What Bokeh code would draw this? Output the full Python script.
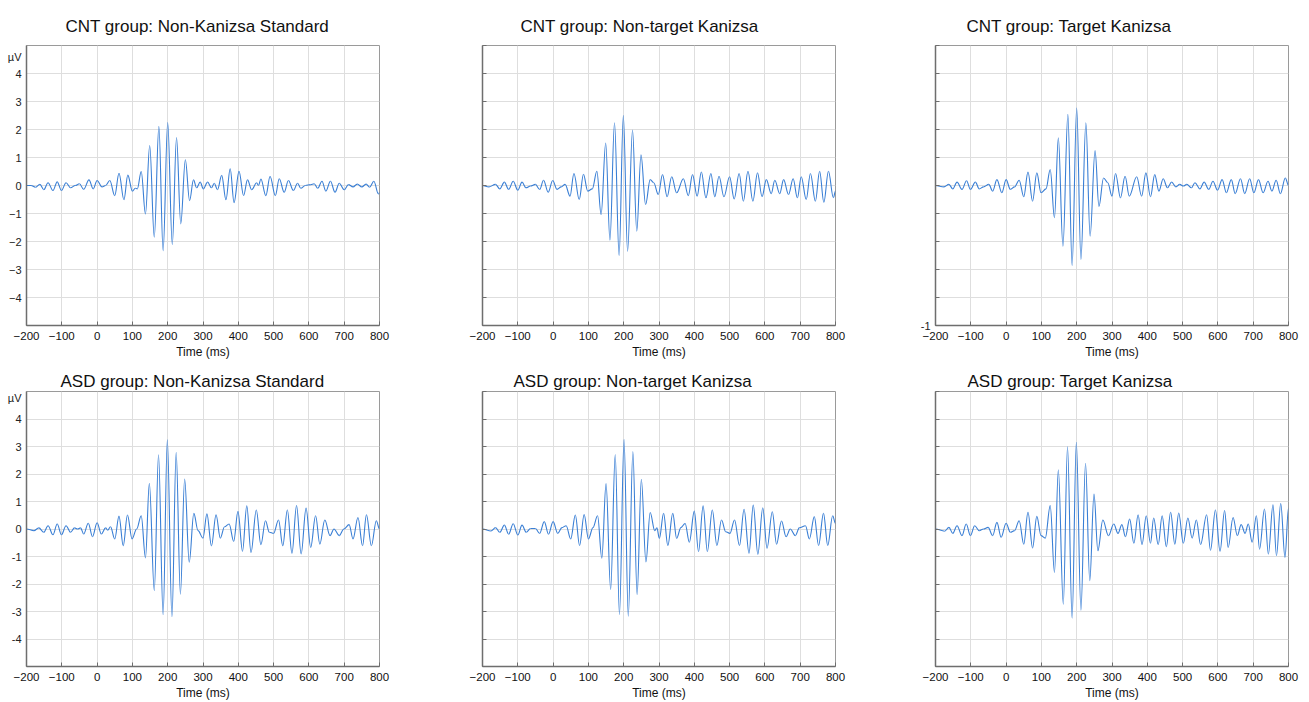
from bokeh.plotting import figure
from bokeh.layouts import gridplot
from bokeh.models import Range1d, FixedTicker
from bokeh.embed import file_html
from bokeh.resources import INLINE

titles = [
    "CNT  group:  Non-Kanizsa Standard",
    "CNT group:  Non-target Kanizsa",
    "CNT group:  Target Kanizsa",
    "ASD group: Non-Kanizsa Standard",
    "ASD group:  Non-target Kanizsa",
    "ASD group:  Target Kanizsa",
]

x_ticks = [-200, -100, 0, 100, 200, 300, 400, 500, 600, 700, 800]
y_ticks = [-5, -4, -3, -2, -1, 0, 1, 2, 3, 4, 5]
unit_label = "\u00b5V"
unit_pos = [4.6, 4.75]
y_labels_row1 = {4: "4", 3: "3", 2: "2", 1: "1", 0: "0", -1: "\u22121",
                 -2: "\u22122", -3: "\u22123", -4: "\u22124", -5: "", 5: ""}
y_labels_row2 = {4: "4", 3: "3", 2: "2", 1: "1", 0: "0", -1: "-1",
                 -2: "-2", -3: "-3", -4: "-4", -5: "", 5: ""}
x_label = "Time (ms)"

# CNT group: Non-Kanizsa Standard (successive peaks/troughs)
t1 = [-200, -187, -175, -162, -151, -139, -125, -113, -101, -88, -75, -62, -50, -38, -23, -11, 0, 14, 24, 36,
      50, 62, 76, 87, 100, 108, 114, 125, 137, 149, 162, 175, 187, 200, 213, 225, 237, 250, 262, 273,
      282, 292, 301, 313, 324, 332, 341, 353, 365, 377, 388, 402, 415, 426, 438, 452, 457, 464, 478, 490,
      505, 516, 530, 542, 556, 568, 577, 590, 605, 615, 625, 637, 648, 661, 674, 686, 700, 712, 725, 737,
      750, 762, 772, 784, 797, 800]
v1 = [0, 0, -0.06, 0.04, -0.15, 0.1, -0.18, 0.13, -0.18, 0.1, -0.08, 0, 0.06, -0.14, 0.2, -0.12, 0.18, -0.05, 0, 0.18,
      -0.36, 0.44, -0.51, 0.37, -0.2, -0.1, -0.12, 0.5, -1.02, 1.43, -1.85, 2.11, -2.33, 2.25, -2.11, 1.71, -1.37, 0.92, -0.54, 0.2,
      -0.08, 0.12, -0.12, 0.12, -0.08, 0.08, -0.15, 0.36, -0.51, 0.6, -0.61, 0.51, -0.36, 0.2, -0.15, 0.1, 0.0, 0.23, -0.36, 0.32,
      -0.36, 0.24, -0.24, 0.18, -0.18, 0.08, -0.1, 0.0, 0.03, 0.06, -0.1, 0.15, -0.2, 0.15, -0.24, 0.08, -0.15, 0.03, -0.05, 0.05,
      -0.05, 0.05, -0.06, 0.15, -0.3, -0.25]

# CNT group: Non-target Kanizsa
t2 = [-200, -182, -163, -151, -138, -126, -113, -100, -88, -77, -64, -50, -38, -27, -14, -1, 11, 23, 34, 48,
      59, 74, 86, 98, 111, 124, 136, 149, 161, 174, 187, 199, 211, 225, 237, 249, 262, 275, 285, 298,
      310, 323, 336, 350, 369, 383, 395, 408, 420, 433, 447, 458, 470, 484, 500, 513, 527, 539, 552, 566,
      579, 592, 604, 618, 628, 642, 653, 667, 680, 692, 703, 717, 729, 743, 755, 767, 780, 794, 800]
v2 = [0, -0.05, 0.04, -0.12, 0.12, -0.14, 0.15, -0.17, 0.12, -0.08, -0.02, 0.04, -0.14, 0.19, -0.24, 0.18, -0.14, -0.05, 0.04, -0.38,
      0.43, -0.5, 0.4, -0.2, -0.12, 0.51, -1.04, 1.52, -1.95, 2.24, -2.5, 2.5, -2.35, 1.98, -1.63, 1.1, -0.68, 0.21, 0.1, -0.32,
      0.39, -0.4, 0.31, -0.26, 0.24, -0.36, 0.39, -0.38, 0.48, -0.44, 0.43, -0.4, 0.33, -0.4, 0.31, -0.48, 0.43, -0.56, 0.51, -0.56,
      0.45, -0.4, 0.21, -0.29, 0.19, -0.29, 0.21, -0.32, 0.24, -0.44, 0.31, -0.5, 0.43, -0.56, 0.51, -0.6, 0.51, -0.44, -0.2]

# CNT group: Target Kanizsa
t3 = [-200, -176, -162, -151, -139, -125, -112, -101, -87, -76, -64, -49, -38, -26, -12, 0, 12, 24, 37, 50,
      62, 75, 87, 99, 113, 125, 137, 148, 161, 175, 187, 200, 212, 226, 238, 252, 263, 276, 288, 300,
      310, 324, 337, 349, 370, 384, 396, 409, 421, 433, 445, 457, 469, 481, 492, 502, 512, 525, 535, 549,
      561, 574, 586, 599, 612, 624, 638, 649, 664, 676, 690, 702, 715, 728, 742, 753, 765, 777, 791, 800]
v3 = [0, -0.05, 0.04, -0.12, 0.12, -0.14, 0.17, -0.14, 0.12, -0.12, -0.05, 0.04, -0.2, 0.21, -0.26, 0.21, -0.14, -0.05, 0.19, -0.4,
      0.48, -0.56, 0.45, -0.26, -0.12, 0.57, -1.15, 1.7, -2.17, 2.54, -2.86, 2.77, -2.64, 2.24, -1.81, 1.25, -0.75, 0.27, 0.1, -0.38,
      0.43, -0.44, 0.33, -0.38, 0.31, -0.38, 0.45, -0.4, 0.39, -0.2, 0.24, -0.08, 0.12, -0.05, 0.04, -0.02, 0.04, -0.08, 0.1, -0.12,
      0.12, -0.14, 0.15, -0.17, 0.21, -0.26, 0.21, -0.29, 0.24, -0.29, 0.24, -0.26, 0.21, -0.26, 0.15, -0.2, 0.19, -0.29, 0.27, 0.0]

# ASD group: Non-Kanizsa Standard
t4 = [-200, -179, -165, -151, -139, -125, -113, -101, -88, -75, -64, -55, -47, -38, -25, -13, 0, 12, 24, 30,
      38, 50, 62, 74, 86, 99, 112, 125, 137, 148, 162, 174, 187, 199, 212, 224, 236, 248, 261, 274,
      286, 300, 311, 324, 337, 349, 361, 374, 387, 399, 412, 424, 436, 451, 464, 477, 488, 500, 514, 526,
      539, 552, 565, 578, 592, 605, 619, 631, 645, 660, 671, 686, 699, 714, 725, 739, 752, 763, 777, 791, 800]
v4 = [0, -0.06, 0.04, -0.12, 0.12, -0.21, 0.18, -0.21, 0.12, -0.12, 0.04, 0, 0.04, -0.18, 0.21, -0.28, 0.23, -0.18, 0.04, -0.04,
      0.08, -0.36, 0.47, -0.61, 0.51, -0.36, 0, 0.48, -1.05, 1.66, -2.24, 2.7, -3.12, 3.24, -3.19, 2.79, -2.37, 1.82, -1.21, 0.57,
      -0.06, -0.33, 0.55, -0.61, 0.52, -0.33, 0.08, 0.18, -0.45, 0.64, -0.81, 0.84, -0.85, 0.69, -0.57, 0.3, -0.12, -0.16, 0.33, -0.61,
      0.69, -0.88, 0.85, -0.91, 0.76, -0.67, 0.48, -0.55, 0.33, -0.24, 0, -0.24, 0, 0.16, -0.36, 0.42, -0.61, 0.52, -0.61, 0.3, 0]

# ASD group: Non-target Kanizsa
t5 = [-200, -176, -163, -151, -138, -126, -113, -100, -88, -76, -64, -50, -38, -25, -13, 0, 13, 25, 37, 50,
      63, 75, 88, 100, 113, 126, 138, 150, 163, 176, 188, 201, 213, 226, 238, 250, 263, 275, 288, 294,
      301, 313, 325, 339, 350, 362, 374, 386, 400, 412, 425, 437, 451, 464, 477, 489, 501, 514, 528, 541,
      555, 567, 580, 594, 606, 621, 633, 647, 660, 672, 686, 698, 715, 726, 740, 752, 766, 778, 792, 800]
v5 = [0, -0.07, 0.05, -0.12, 0.14, -0.19, 0.19, -0.22, 0.14, -0.12, 0.02, 0.02, -0.16, 0.27, -0.19, 0.27, -0.16, 0.05, 0.12, -0.36,
      0.51, -0.6, 0.53, -0.36, 0.05, 0.48, -1.06, 1.65, -2.2, 2.71, -3.11, 3.25, -3.17, 2.82, -2.39, 1.81, -1.2, 0.6, -0.06, 0.04,
      -0.34, 0.57, -0.6, 0.57, -0.34, 0.05, 0.2, -0.48, 0.65, -0.82, 0.84, -0.82, 0.69, -0.6, 0.33, -0.1, -0.16, 0.33, -0.6, 0.72,
      -0.88, 0.87, -0.92, 0.77, -0.7, 0.63, -0.55, 0.29, -0.28, 0, -0.24, 0.05, 0.12, -0.36, 0.45, -0.6, 0.57, -0.6, 0.48, 0.2]

# ASD group: Target Kanizsa
t6 = [-200, -174, -162, -151, -139, -125, -113, -101, -89, -76, -64, -51, -38, -26, -14, 0, 12, 24, 37, 50,
      62, 75, 87, 99, 111, 125, 137, 148, 162, 174, 187, 199, 212, 225, 237, 249, 260, 274, 290, 305,
      317, 328, 338, 350, 362, 374, 385, 397, 409, 418, 431, 442, 454, 466, 478, 489, 502, 515, 527, 539,
      551, 568, 579, 593, 606, 619, 629, 643, 655, 666, 677, 686, 697, 709, 718, 732, 743, 756, 766, 778, 790, 800]
v6 = [0, -0.08, 0.06, -0.16, 0.12, -0.24, 0.18, -0.24, 0.12, -0.06, 0, 0.06, -0.24, 0.24, -0.3, 0.21, -0.12, -0.06, 0.3, -0.55,
      0.61, -0.69, 0.46, -0.24, -0.33, 0.85, -1.58, 2.15, -2.73, 2.99, -3.24, 3.15, -2.95, 2.39, -1.88, 1.27, -0.79, 0.33, -0.24, 0.18,
      -0.16, 0.16, -0.28, 0.36, -0.52, 0.52, -0.57, 0.48, -0.52, 0.4, -0.57, 0.48, -0.64, 0.61, -0.55, 0.58, -0.52, 0.4, -0.33, 0.33,
      -0.57, 0.52, -0.77, 0.69, -0.81, 0.67, -0.67, 0.42, -0.24, 0.16, -0.16, 0.18, -0.48, 0.48, -0.73, 0.73, -0.91, 0.88, -0.97, 0.93,
      -1.03, 0.76]

series = [(t1, v1), (t2, v2), (t3, v3), (t4, v4), (t5, v5), (t6, v6)]

FONT = "Liberation Sans"
LINE_COLOR = "#3a7fd5"

col_borders = [(26, 53), (50, 50), (50, 15)]
row_borders = [(45, 38), (28, 34)]
frame_heights = [280, 275]
title_offsets = [39, 38, 31, 34, 31, 32]
title_standoffs = [16, 1]
title_valign = ["top", "bottom"]


def make_panel(i):
    row, col = divmod(i, 3)
    t, v = series[i]
    n = min(len(t), len(v))
    t, v = t[:n], v[:n]
    p = figure(frame_width=353, frame_height=frame_heights[row],
               x_range=Range1d(-200, 800), y_range=Range1d(-5, 5),
               output_backend="svg", toolbar_location=None,
               min_border_left=col_borders[col][0], min_border_right=col_borders[col][1],
               min_border_top=row_borders[row][0], min_border_bottom=row_borders[row][1],
               background_fill_color="white", border_fill_color="white")
    p.title.text = titles[i]
    p.title.align = "left"
    p.title.offset = title_offsets[i]
    p.title.standoff = title_standoffs[row]
    p.title.vertical_align = title_valign[row]
    p.title.text_font = FONT
    p.title.text_font_size = "17px"
    p.title.text_font_style = "normal"
    p.title.text_color = "#111111"

    # smooth half-waves between successive extrema (horizontal tangents at each extremum)
    x0, y0, x1, y1 = t[:-1], v[:-1], t[1:], v[1:]
    cx0 = [a + 0.36 * (b - a) for a, b in zip(x0, x1)]
    cx1 = [b - 0.36 * (b - a) for a, b in zip(x0, x1)]
    p.bezier(x0=x0, y0=y0, x1=x1, y1=y1, cx0=cx0, cy0=y0, cx1=cx1, cy1=y1,
             line_color=LINE_COLOR, line_width=1.1)

    p.outline_line_color = "#9a9a9a"
    p.outline_line_width = 1

    for g in (p.xgrid, p.ygrid):
        g.grid_line_color = "#dedede"
        g.grid_line_width = 1
    p.xgrid.ticker = FixedTicker(ticks=x_ticks)
    p.ygrid.ticker = FixedTicker(ticks=y_ticks)

    xa = p.xaxis[0]
    xa.ticker = FixedTicker(ticks=x_ticks)
    xa.axis_label = x_label
    xa.axis_label_text_font = FONT
    xa.axis_label_text_font_size = "12px"
    xa.axis_label_text_font_style = "normal"
    xa.axis_label_text_color = "#111111"
    xa.axis_label_standoff = 2
    xa.major_label_text_font = FONT
    xa.major_label_text_font_size = "11.5px"
    xa.major_label_text_color = "#111111"
    xa.major_label_standoff = 6

    ya = p.yaxis[0]
    ya.major_label_text_font = FONT
    ya.major_label_text_font_size = "11px"
    ya.major_label_text_color = "#222222"
    ya.major_label_standoff = 5

    for ax in (xa, ya):
        ax.axis_line_color = "#6e6e6e"
        ax.axis_line_width = 1.5
        ax.major_tick_line_color = "#6e6e6e"
        ax.major_tick_in = 4
        ax.major_tick_out = 0
        ax.minor_tick_line_color = None

    if col == 0:
        labels = dict(y_labels_row1 if row == 0 else y_labels_row2)
        labels[unit_pos[row]] = unit_label
        ya.ticker = FixedTicker(ticks=y_ticks + [unit_pos[row]])
        ya.major_label_overrides = labels
        ya.major_tick_in = 0
    else:
        ya.ticker = FixedTicker(ticks=y_ticks)
        blank = {k: "" for k in y_ticks}
        if i == 2:
            blank[-5] = "-1"
        ya.major_label_overrides = blank
    return p


panels = [make_panel(i) for i in range(6)]
grid = gridplot([panels[0:3], panels[3:6]], toolbar_location=None)

open("out.html", "w").write(file_html(grid, INLINE))
